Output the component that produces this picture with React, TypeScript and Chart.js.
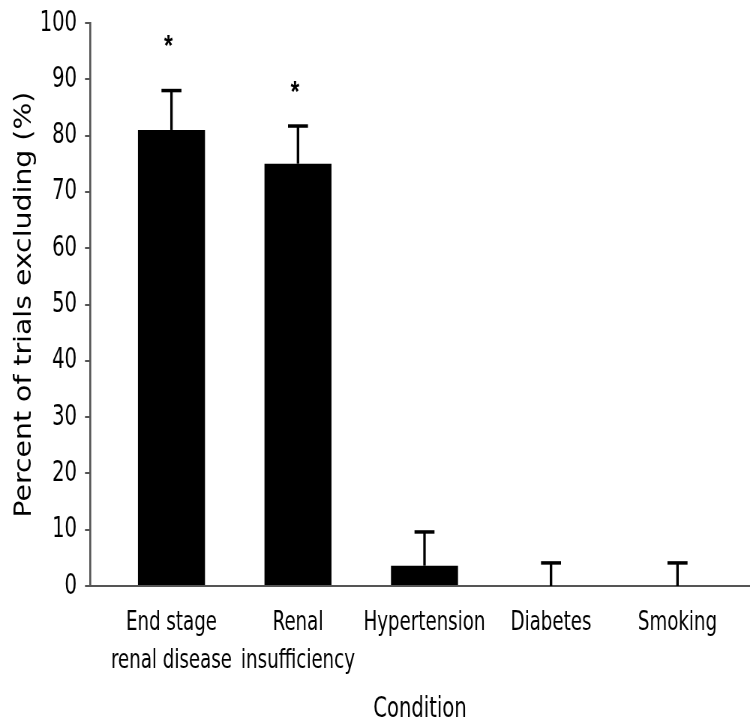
import React, { useEffect, useRef } from "react";
import { Chart, registerables } from "chart.js";

Chart.register(...registerables);

const categories: string[][] = [
  ["End stage", "renal disease"],
  ["Renal", "insufficiency"],
  ["Hypertension"],
  ["Diabetes"],
  ["Smoking"],
];
const percentExcluding: number[] = [81, 75, 3.6, 0, 0];
const errorUpper: number[] = [88, 81.7, 9.6, 4.1, 4.1];
const asteriskAt: (number | null)[] = [96.8, 88.7, null, null, null];
const yTicks: number[] = [0, 10, 20, 30, 40, 50, 60, 70, 80, 90, 100];

// The original figure uses a tall, condensed typeface: the canvas is drawn
// wider than shown and compressed horizontally by CSS to reproduce it.
const SHOWN_W = 750;
const SHOWN_H = 722;
const SX = 0.75;
const CANVAS_W = SHOWN_W / SX;
const px = (v: number) => v / SX; // horizontal size in canvas units

const FONT = "'DejaVu Sans Condensed', 'Liberation Sans Narrow', sans-serif";

const errorBarPlugin = {
  id: "errorBars",
  afterDatasetsDraw(chart: any) {
    const ctx = chart.ctx;
    const xs = chart.scales.x;
    const ys = chart.scales.y;
    ctx.save();
    ctx.strokeStyle = "#000";
    categories.forEach((_, i) => {
      const x = xs.getPixelForValue(i);
      const yb = ys.getPixelForValue(percentExcluding[i]);
      const yt = ys.getPixelForValue(errorUpper[i]);
      ctx.lineWidth = px(2.5);
      ctx.beginPath();
      ctx.moveTo(x, yb);
      ctx.lineTo(x, yt);
      ctx.stroke();
      ctx.lineWidth = 3.5;
      ctx.beginPath();
      ctx.moveTo(x - px(10), yt);
      ctx.lineTo(x + px(10), yt);
      ctx.stroke();
      const a = asteriskAt[i];
      if (a !== null) {
        ctx.fillStyle = "#000";
        ctx.font = `bold 30px 'Liberation Sans', Arial, sans-serif`;
        ctx.textAlign = "center";
        ctx.textBaseline = "middle";
        ctx.fillText("*", x - px(3), ys.getPixelForValue(a) + 6);
      }
    });
    ctx.restore();
  },
};

export default function App() {
  const ref = useRef<HTMLCanvasElement | null>(null);
  useEffect(() => {
    if (!ref.current) return;
    const chart = new Chart(ref.current, {
      type: "bar",
      data: {
        datasets: [
          {
            data: percentExcluding.map((v, i) => ({ x: i, y: v })),
            backgroundColor: "#000",
            borderWidth: 0,
            categoryPercentage: 1,
            barPercentage: 0.53,
          },
        ],
      },
      options: {
        responsive: false,
        animation: false,
        devicePixelRatio: 1,
        layout: { padding: { top: 23, right: 0, bottom: 0, left: 0 } },
        plugins: { legend: { display: false }, tooltip: { enabled: false } },
        scales: {
          x: {
            type: "linear",
            offset: false,
            min: -0.644,
            max: 4.573,
            afterBuildTicks: (axis: any) => {
              axis.ticks = categories.map((_, i) => ({ value: i }));
            },
            afterFit: (axis: any) => {
              axis.height = 136;
            },
            ticks: {
              autoSkip: false,
              maxRotation: 0,
              padding: 18,
              color: "#000",
              font: { family: FONT, size: 27, lineHeight: 1.407 },
              callback: (v: any) => categories[Math.round(Number(v))] ?? "",
            },
            grid: { display: false, drawTicks: false },
            border: { display: true, color: "#555", width: 2 },
            title: {
              display: true,
              text: "Condition",
              color: "#000",
              font: { family: FONT, size: 29, lineHeight: 0.83 },
              padding: { top: 0, bottom: 0 },
            },
          },
          y: {
            min: 0,
            max: 100,
            afterBuildTicks: (axis: any) => {
              axis.ticks = yTicks.map((v) => ({ value: v }));
            },
            afterFit: (axis: any) => {
              axis.width = px(90);
            },
            ticks: {
              padding: px(8),
              color: "#000",
              font: { family: FONT, size: 29, lineHeight: 0.8 },
            },
            grid: {
              drawOnChartArea: false,
              drawTicks: true,
              tickLength: px(5),
              color: "#555",
              lineWidth: 2,
            },
            border: { display: true, color: "#555", width: px(2) },
            title: {
              display: true,
              text: "Percent of trials excluding (%)",
              color: "#000",
              font: { family: FONT, size: 31.5 },
              padding: { top: 14, bottom: 0 },
            },
          },
        },
      },
      plugins: [errorBarPlugin],
    });
    return () => chart.destroy();
  }, []);
  return (
    <div
      style={{
        position: "absolute",
        left: 0,
        top: 0,
        width: SHOWN_W,
        height: SHOWN_H,
        background: "#fff",
        overflow: "hidden",
      }}
    >
      <canvas
        ref={ref}
        width={CANVAS_W}
        height={SHOWN_H}
        style={{ width: SHOWN_W, height: SHOWN_H, display: "block" }}
      />
    </div>
  );
}
